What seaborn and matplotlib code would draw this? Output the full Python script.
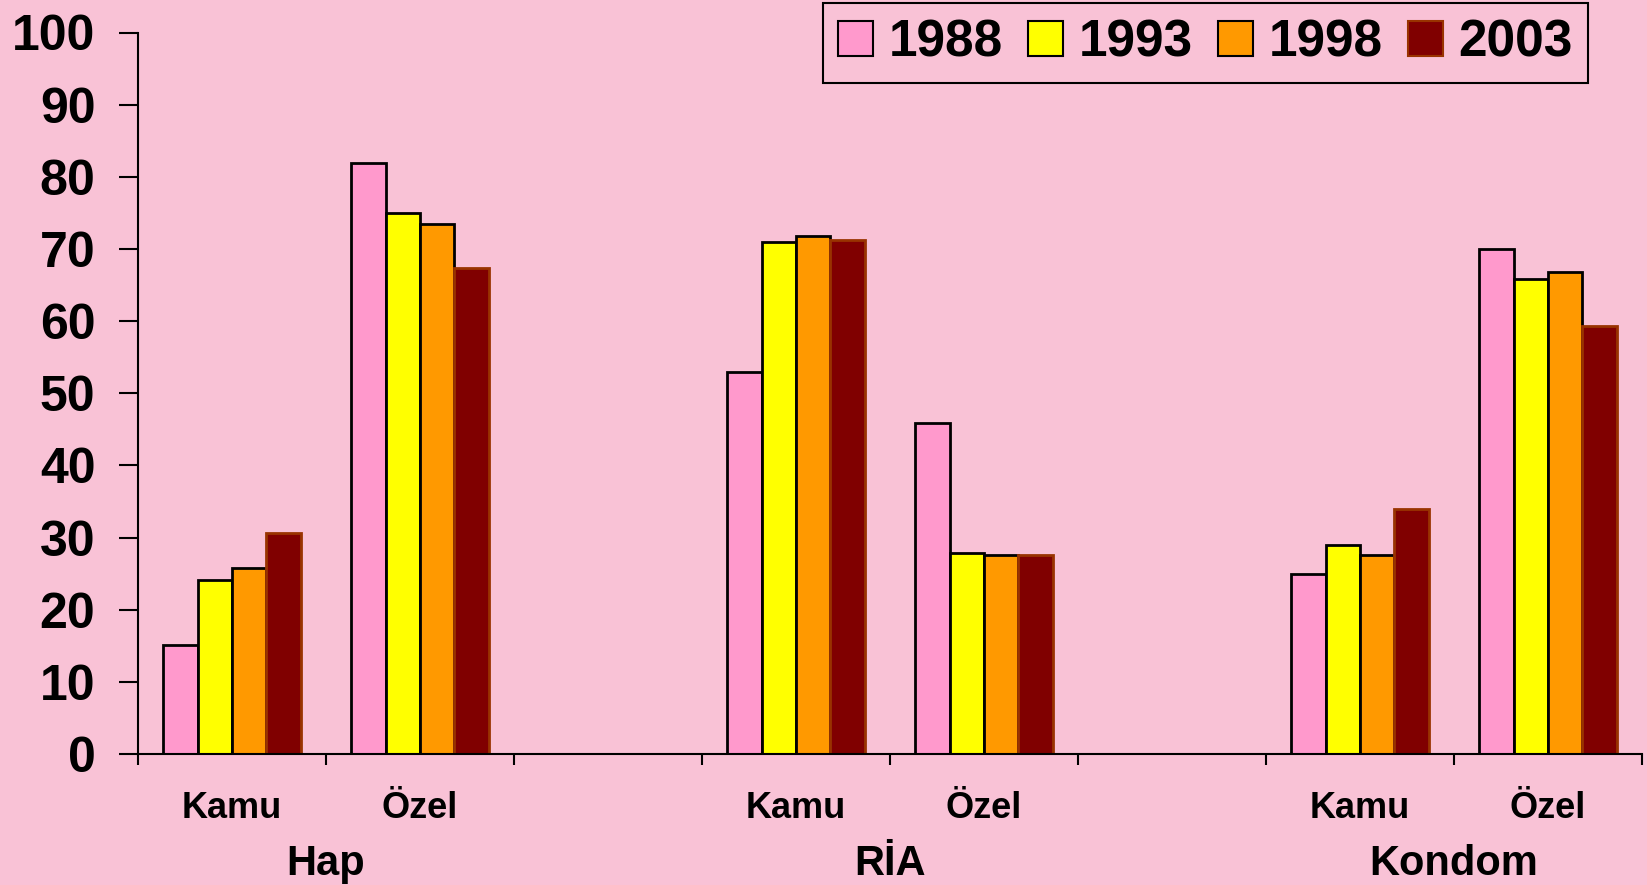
import pandas as pd
import seaborn as sns
import matplotlib.pyplot as plt
from matplotlib.patches import Patch

# Chart data
slots = ['Hap Kamu', 'Hap Özel', 'bos1', 'RİA Kamu', 'RİA Özel', 'bos2', 'Kondom Kamu', 'Kondom Özel']
slot_labels = ['Kamu', 'Özel', '', 'Kamu', 'Özel', '', 'Kamu', 'Özel']
groups = ['Hap', 'RİA', 'Kondom']
filled = ['Hap Kamu', 'Hap Özel', 'RİA Kamu', 'RİA Özel', 'Kondom Kamu', 'Kondom Özel']
years = ['1988', '1993', '1998', '2003']
v1988 = [15.1, 81.9, 52.9, 45.9, 24.9, 70.0]
v1993 = [24.1, 75.0, 70.9, 27.9, 29.0, 65.9]
v1998 = [25.8, 73.5, 71.8, 27.6, 27.6, 66.8]
v2003 = [30.6, 67.4, 71.2, 27.6, 34.0, 59.3]
colors = ['#FF99CC', '#FFFF00', '#FF9900', '#800000']
edges = ['black', 'black', 'black', '#993300']

# long table for seaborn
rows = []
for year, vals in zip(years, [v1988, v1993, v1998, v2003]):
    for s, v in zip(filled, vals):
        rows.append({'slot': s, 'year': year, 'value': v})
df = pd.DataFrame(rows)

sns.set_style('white')
plt.rcParams['font.family'] = ['Liberation Sans', 'DejaVu Sans']
plt.rcParams['font.weight'] = 'bold'
plt.rcParams['text.color'] = 'black'
plt.rcParams['xtick.color'] = 'black'
plt.rcParams['ytick.color'] = 'black'

bg = '#F9C2D6'
fig = plt.figure(figsize=(16.47, 8.85), dpi=100)
fig.patch.set_facecolor(bg)
ax = fig.add_axes([138 / 1647, 1 - 754 / 885, (1642 - 138) / 1647, (754 - 32.5) / 885])
ax.set_facecolor(bg)

sns.barplot(data=df, x='slot', y='value', hue='year', order=slots, hue_order=years,
            palette=dict(zip(years, colors)), width=0.734, gap=0, linewidth=2,
            edgecolor='black', saturation=1, legend=False, ax=ax)
for cont, ec in zip(ax.containers, edges):
    for bar in cont:
        bar.set_edgecolor(ec)

ax.set_xlim(-0.5, len(slots) - 0.5)
ax.set_ylim(0, 100)
ax.set_yticks(range(0, 101, 10))
ax.tick_params(axis='y', labelsize=36, length=13.7, width=1.5, pad=17, left=True,
               direction='out', labelcolor='black')
ax.set_xticks([i - 0.5 for i in range(len(slots) + 1)])
ax.set_xticklabels([])
ax.set_xticks(range(len(slots)), minor=True)
ax.set_xticklabels(slot_labels, minor=True)
ax.tick_params(axis='x', which='major', length=8, width=1.5, bottom=True, direction='out')
ax.tick_params(axis='x', which='minor', length=0, labelsize=26, pad=27, labelcolor='black')
ax.set_xlabel('')
ax.set_ylabel('')
for lab in ax.get_yticklabels() + ax.get_xticklabels(minor=True):
    lab.set_fontweight('bold')

sns.despine(ax=ax)
for side in ['left', 'bottom']:
    ax.spines[side].set_linewidth(1.5)
    ax.spines[side].set_color('black')

# group names under the pairs
for i, g in enumerate(groups):
    ax.text(3 * i + 0.5, -(875 - 754) / 721.5, g, transform=ax.get_xaxis_transform(),
            ha='center', va='baseline', fontsize=30, fontweight='bold', color='black')

handles = [Patch(facecolor=c, edgecolor=e, linewidth=1.5) for c, e in zip(colors, edges)]
leg = fig.legend(handles, years, loc='upper right', bbox_to_anchor=(1588 / 1647, 1 - 3 / 885),
                 ncol=4, frameon=True, fancybox=False, handlelength=0.675,
                 handleheight=0.68, handletextpad=0.3, columnspacing=0.5, borderpad=0.3,
                 borderaxespad=0, prop={'weight': 'bold', 'size': 37})
leg.get_frame().set_edgecolor('black')
leg.get_frame().set_linewidth(1.5)
leg.get_frame().set_facecolor(bg)
leg.get_frame().set_alpha(1)

plt.savefig('out.png', dpi=100, facecolor=bg)
